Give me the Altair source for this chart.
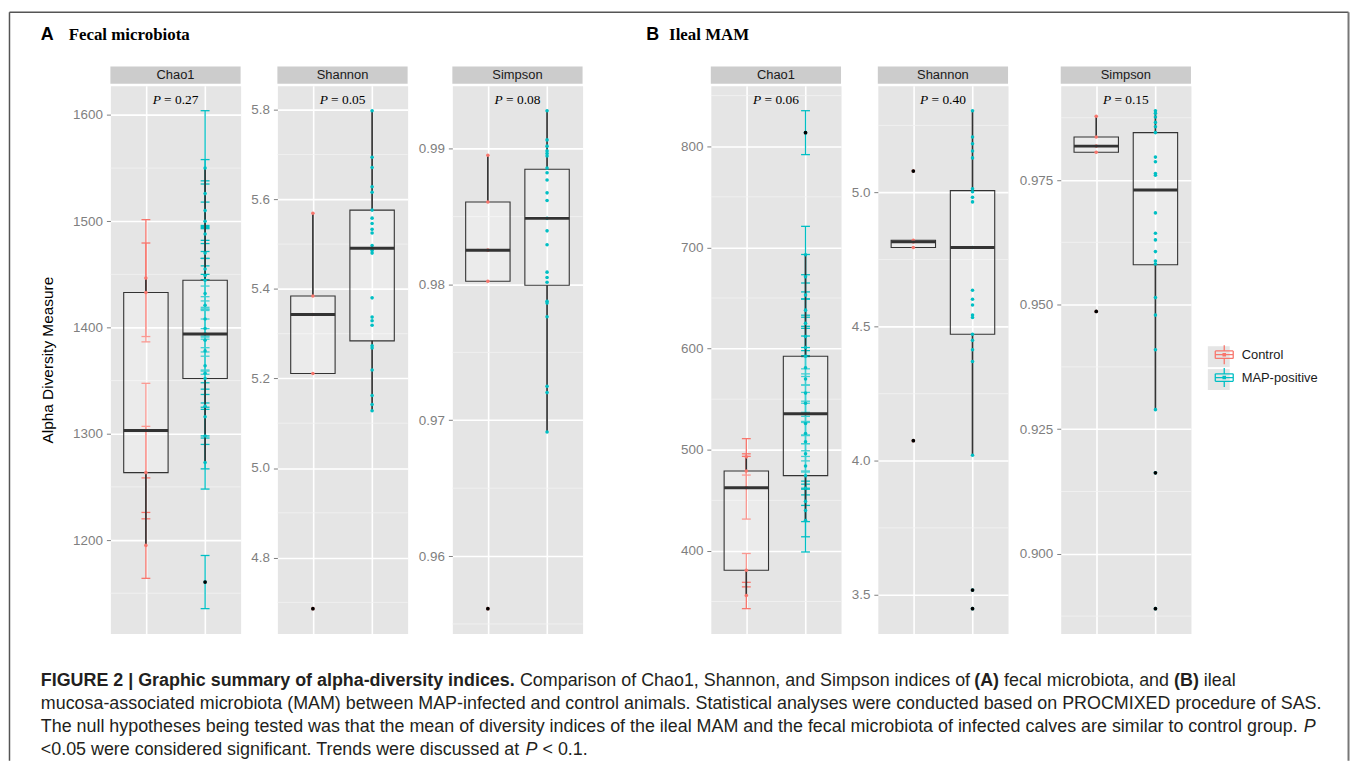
import altair as alt
import pandas as pd

# ---------------- data ----------------
groups = ["Control", "MAP-positive"]
group_pos = [1, 2]
group_colors = ["#F8766D", "#00BFC4"]
metrics = ["Chao1", "Shannon", "Simpson"]
panel_letters = ["A", "B"]
panel_names = ["Fecal microbiota", "Ileal MAM"]
p_fecal = ["0.27", "0.05", "0.08"]
p_ileal = ["0.06", "0.40", "0.15"]
y_title = "Alpha Diversity Measure"

caption_l1 = ["FIGURE 2 | Graphic summary of alpha-diversity indices.",
              "Comparison of Chao1, Shannon, and Simpson indices of", "(A)",
              "fecal microbiota, and", "(B)", "ileal"]
caption_l2 = ("mucosa-associated microbiota (MAM) between MAP-infected and control animals. "
              "Statistical analyses were conducted based on PROCMIXED procedure of SAS.")
caption_l3 = ["The null hypotheses being tested was that the mean of diversity indices of the ileal MAM "
              "and the fecal microbiota of infected calves are similar to control group.", "P"]
caption_l4 = ["<0.05 were considered significant. Trends were discussed at", "P", "< 0.1."]

# box stats: [lower whisker, Q1, median, Q3, upper whisker]
# ---- Fecal Chao1 ----
fc_ctrl = [1446.5, 1433.0, 1303.0, 1263.5, 1195.0]
fc_ctrl_se = [55.0, 46.5, 44.5, 43.5, 31.0]
fc_map = [1550, 1526, 1510, 1500, 1488, 1470, 1455, 1449, 1444.5, 1432, 1421, 1408,
          1399, 1394, 1388, 1378, 1364, 1357, 1352, 1326, 1316, 1298, 1273, 1160.5]
fc_map_se = [54, 32, 28, 35, 30, 25, 38, 30, 27, 33, 29, 31,
             26, 35, 28, 30, 27, 32, 29, 30, 26, 31, 25, 25]
fc_box_ctrl = [1195.0, 1263.5, 1303.0, 1433.0, 1446.5]
fc_box_map = [1273.0, 1352.0, 1394.0, 1444.5, 1550.0]
fc_out_ctrl = []
fc_out_map = [1160.5]
fc_major = [1200, 1300, 1400, 1500, 1600]
fc_minor = [1150, 1250, 1350, 1450, 1550]

# ---- Fecal Shannon ----
fs_ctrl = [5.569, 5.384, 5.343, 5.211, 4.686]
fs_map = [5.798, 5.694, 5.671, 5.628, 5.616, 5.576, 5.558, 5.546, 5.533, 5.525, 5.497, 5.486,
          5.480, 5.380, 5.337, 5.329, 5.319, 5.273, 5.268, 5.219, 5.162, 5.142, 5.128]
fs_box_ctrl = [5.211, 5.211, 5.343, 5.384, 5.569]
fs_box_map = [5.128, 5.284, 5.491, 5.576, 5.798]
fs_out_ctrl = [4.686]
fs_out_map = []
fs_major = [4.8, 5.0, 5.2, 5.4, 5.6, 5.8]
fs_minor = [4.7, 4.9, 5.1, 5.3, 5.5, 5.7]

# ---- Fecal Simpson ----
fsi_ctrl = [0.98952, 0.98608, 0.98253, 0.98024, 0.95613]
fsi_map = [0.99280, 0.99065, 0.99019, 0.98984, 0.98965, 0.98946, 0.98858, 0.98823, 0.98769,
           0.98675, 0.98618, 0.98487, 0.98395, 0.98293, 0.98091, 0.98051, 0.98016, 0.97876,
           0.97863, 0.97763, 0.97250, 0.97204, 0.96914]
fsi_box_ctrl = [0.98024, 0.98024, 0.98253, 0.98608, 0.98952]
fsi_box_map = [0.96914, 0.97995, 0.98487, 0.98849, 0.99280]
fsi_out_ctrl = [0.95613]
fsi_out_map = []
fsi_major = [0.96, 0.97, 0.98, 0.99]
fsi_minor = [0.955, 0.965, 0.975, 0.985]

# ---- Ileal Chao1 ----
ic_ctrl = [493.0, 479.0, 462.5, 381.0, 356.0]
ic_ctrl_se = [18.0, 17.0, 31.0, 16.5, 13.0]
ic_map = [813.4, 692.8, 671, 653, 638, 625, 612, 601, 592.4, 581, 570, 556,
          546, 535.7, 526, 516, 508, 496, 484, 474.4, 462, 449, 440, 430]
ic_map_se = [21.7, 28, 22, 20, 18, 24, 19, 21, 20, 17, 22, 19,
             18, 21, 20, 17, 19, 18, 22, 19, 17, 20, 26, 31]
ic_box_ctrl = [356.0, 381.0, 462.5, 479.0, 493.0]
ic_box_map = [430.0, 474.4, 535.7, 592.4, 692.8]
ic_out_ctrl = []
ic_out_map = [813.4]
ic_major = [400, 500, 600, 700, 800]
ic_minor = [350, 450, 550, 650, 750, 850]

# ---- Ileal Shannon ----
is_ctrl = [5.080, 4.822, 4.816, 4.795, 4.075]
is_map = [5.305, 5.207, 5.182, 5.155, 5.129, 5.014, 5.003, 4.982, 4.965, 4.795, 4.636,
          4.602, 4.581, 4.543, 4.534, 4.472, 4.449, 4.414, 4.370, 4.021, 3.518, 3.449]
is_box_ctrl = [4.795, 4.795, 4.816, 4.822, 4.822]
is_box_map = [4.021, 4.472, 4.795, 5.007, 5.305]
is_out_ctrl = [5.080, 4.075]
is_out_map = [3.518, 3.449]
is_major = [3.5, 4.0, 4.5, 5.0]
is_minor = [3.75, 4.25, 4.75, 5.25]

# ---- Ileal Simpson ----
isi_ctrl = [0.98782, 0.98364, 0.98181, 0.98057, 0.94863]
isi_map = [0.98892, 0.98840, 0.98767, 0.98657, 0.98569, 0.98452, 0.97961, 0.97866, 0.97632,
           0.97595, 0.96841, 0.96431, 0.96299, 0.96064, 0.95874, 0.95815, 0.95141, 0.94790,
           0.94094, 0.92893, 0.91625, 0.88900]
isi_box_ctrl = [0.98057, 0.98057, 0.98181, 0.98364, 0.98782]
isi_box_map = [0.92893, 0.95801, 0.97302, 0.98452, 0.98892]
isi_out_ctrl = [0.94863]
isi_out_map = [0.91625, 0.88900]
isi_major = [0.900, 0.925, 0.950, 0.975]
isi_minor = [0.8875, 0.9125, 0.9375, 0.9625, 0.9875]

# ---------------- styling / layout ----------------
W, H = 131, 551
SANS = "Liberation Sans"
SERIF = "Liberation Serif"
DARK = "#333333"
GREY = "#7F7F7F"

cscale = alt.Scale(domain=groups, range=group_colors)
# box drawn as separate open segments so that no area gets filled
legend_path = ("M-0.95,-0.4H0.95 M0.95,-0.4V0.4 M0.95,0.4H-0.95 M-0.95,0.4V-0.4 "
               "M-0.95,0H0.95 M0,-1V-0.4 M0,0.4V1 M-0.12,-0.12H0.12V0.12H-0.12Z")
leg = alt.Legend(title=None, orient="none", legendX=1110, legendY=260,
                 symbolType=legend_path, symbolSize=361, symbolStrokeWidth=1.3,
                 labelFont=SANS, labelFontSize=13,
                 labelColor="#1A1A1A", labelOffset=7, rowPadding=-3, padding=0)


def text_layer(txt, x, y, size, font=SANS, weight="normal", style="normal",
               align="left", color="#1A1A1A", baseline="alphabetic"):
    df = pd.DataFrame({"t": [txt]})
    return alt.Chart(df).mark_text(font=font, fontSize=size, fontWeight=weight,
                                   fontStyle=style, align=align, baseline=baseline,
                                   color=color).encode(
        text="t:N", x=alt.value(x), y=alt.value(y))


def panel(metric, pval, ctrl, mapv, box_c, box_m, out_c, out_m, major, minor, fmt,
          ctrl_se=None, map_se=None, first=False, extras=()):
    n_c, n_m = len(ctrl), len(mapv)
    pts = pd.DataFrame({"grp": [groups[0]] * n_c + [groups[1]] * n_m,
                        "pos": [group_pos[0]] * n_c + [group_pos[1]] * n_m,
                        "value": list(ctrl) + list(mapv)})
    ext = list(pts["value"])
    has_se = ctrl_se is not None
    if has_se:
        se = pd.Series(list(ctrl_se) + list(map_se), dtype=float)
        pts["lo"] = pts["value"] - se
        pts["hi"] = pts["value"] + se
        pts["cl"] = pts["pos"] - 0.075
        pts["cr"] = pts["pos"] + 0.075
        ext += list(pts["lo"]) + list(pts["hi"])
    box = pd.DataFrame({"grp": groups, "pos": group_pos,
                        "lw": [box_c[0], box_m[0]], "q1": [box_c[1], box_m[1]],
                        "med": [box_c[2], box_m[2]], "q3": [box_c[3], box_m[3]],
                        "uw": [box_c[4], box_m[4]]})
    box["xl"] = box["pos"] - 0.375
    box["xr"] = box["pos"] + 0.375
    out = pd.DataFrame({"pos": [1] * len(out_c) + [2] * len(out_m),
                        "value": list(out_c) + list(out_m)})
    ext += list(out["value"])
    lo, hi = min(ext), max(ext)
    pad = 0.05 * (hi - lo)
    ys = alt.Scale(domain=[lo - pad, hi + pad], nice=False, zero=False)
    xs = alt.Scale(domain=[0.4, 2.6], nice=False, zero=False)

    yaxis = alt.Axis(values=major, format=fmt, title=y_title if first else None,
                     domain=False, grid=True, gridColor="white", gridWidth=1.6,
                     tickColor=GREY, tickSize=4, tickWidth=1,
                     labelColor=GREY, labelFont=SANS, labelFontSize=13.5, labelPadding=4,
                     minExtent=42, maxExtent=42,
                     titleFont=SANS, titleFontSize=15.5, titleFontWeight="normal",
                     titleColor="black", titlePadding=13)
    xaxis = alt.Axis(values=[1, 2], labels=False, ticks=False, domain=False, grid=True,
                     gridColor="white", gridWidth=1.6, title=None)

    def X(f):
        return alt.X(f + ":Q", scale=xs, axis=xaxis)

    def Y(f):
        return alt.Y(f + ":Q", scale=ys, axis=yaxis)

    layers = []
    layers.append(alt.Chart(pd.DataFrame({"v": minor})).mark_rule(
        color="#F2F2F2", strokeWidth=0.8).encode(y=Y("v")))
    # strip
    sdf = pd.DataFrame({"m": [metric]})
    layers.append(alt.Chart(sdf).mark_rect(color="#CCCCCC").encode(
        x=alt.value(0), x2=alt.value(W), y=alt.value(-19.5), y2=alt.value(-2)))
    layers.append(alt.Chart(sdf).mark_text(font=SANS, fontSize=13, color="#1A1A1A",
                                           baseline="middle").encode(
        text="m:N", x=alt.value(W / 2), y=alt.value(-10.5)))
    # p-value
    layers.append(text_layer("P", W / 2 - 23, 14, 13.5, font=SERIF, style="italic",
                             baseline="middle", color="black"))
    layers.append(text_layer("= " + pval, W / 2 - 11.5, 14, 13.5, font=SERIF,
                             baseline="middle", color="black"))
    if has_se:
        layers.append(alt.Chart(pts).mark_rule(strokeWidth=1.3).encode(
            x=X("pos"), y=Y("lo"), y2="hi:Q",
            color=alt.Color("grp:N", scale=cscale, legend=leg if first else None)))
        for f in ["lo", "hi"]:
            layers.append(alt.Chart(pts).mark_rule(strokeWidth=1.3).encode(
                x=X("cl"), x2="cr:Q", y=Y(f),
                color=alt.Color("grp:N", scale=cscale, legend=None)))
    layers.append(alt.Chart(box).mark_rect(fill="white", fillOpacity=0.25, stroke=DARK,
                                          strokeWidth=1.1).encode(
        x=X("xl"), x2="xr:Q", y=Y("q1"), y2="q3:Q"))
    layers.append(alt.Chart(box).mark_rule(color=DARK, strokeWidth=1.7).encode(
        x=X("pos"), y=Y("lw"), y2="q1:Q"))
    layers.append(alt.Chart(box).mark_rule(color=DARK, strokeWidth=1.7).encode(
        x=X("pos"), y=Y("q3"), y2="uw:Q"))
    layers.append(alt.Chart(pts).mark_circle(size=13, opacity=1).encode(
        x=X("pos"), y=Y("value"),
        color=alt.Color("grp:N", scale=cscale, legend=None)))
    layers.append(alt.Chart(box).mark_rule(color=DARK, strokeWidth=3).encode(
        x=X("xl"), x2="xr:Q", y=Y("med")))
    if len(out):
        layers.append(alt.Chart(out).mark_circle(size=14, color="black", opacity=1).encode(
            x=X("pos"), y=Y("value")))
    layers.extend(extras)
    return alt.layer(*layers).properties(width=W, height=H)


def spacer(gap):
    return alt.Chart(pd.DataFrame({"a": [0]})).mark_point(opacity=0).encode(
        x=alt.X("a:Q", axis=None), y=alt.Y("a:Q", axis=None)
    ).properties(width=gap, height=H,
                 view=alt.ViewBackground(fill="transparent", stroke="transparent"))


# annotations drawn relative to the first panel
one = pd.DataFrame({"a": [0]})
FRAME = "#555555"
CAP = "#231F20"
extras = [
    alt.Chart(one).mark_rule(color=FRAME, strokeWidth=1.5).encode(
        x=alt.value(-101.5), y=alt.value(-74), y2=alt.value(679)),
    alt.Chart(one).mark_rule(color=FRAME, strokeWidth=1.5).encode(
        x=alt.value(-101.5), x2=alt.value(1245.5), y=alt.value(-74)),
    alt.Chart(one).mark_rule(color="#777777", strokeWidth=2).encode(
        x=alt.value(1245.5), y=alt.value(-74), y2=alt.value(679)),
    # grey key backgrounds of the legend
    alt.Chart(one).mark_rect(color="#E5E5E5").encode(
        x=alt.value(1104), x2=alt.value(1126), y=alt.value(262), y2=alt.value(283)),
    alt.Chart(one).mark_rect(color="#E5E5E5").encode(
        x=alt.value(1104), x2=alt.value(1126), y=alt.value(285), y2=alt.value(306)),
    text_layer(panel_letters[0], -70, -51, 18, weight="bold", baseline="middle", color="black"),
    text_layer(panel_names[0], -42, -51, 17, font=SERIF, weight="bold", baseline="middle",
               color="black"),
    text_layer(panel_letters[1], 539, -51, 18, weight="bold", baseline="middle", color="black"),
    text_layer(panel_names[1], 562, -51, 17, font=SERIF, weight="bold", baseline="middle",
               color="black"),
    # caption
    text_layer(caption_l1[0], -70, 604, 18, weight="bold", color=CAP),
    text_layer(caption_l1[1], 412, 604, 18, color=CAP),
    text_layer(caption_l1[2], 869, 604, 18, weight="bold", color=CAP),
    text_layer(caption_l1[3], 899, 604, 18, color=CAP),
    text_layer(caption_l1[4], 1070, 604, 18, weight="bold", color=CAP),
    text_layer(caption_l1[5], 1100, 604, 18, color=CAP),
    text_layer(caption_l2, -70, 627, 18, color=CAP),
    text_layer(caption_l3[0], -70, 650, 18, color=CAP),
    text_layer(caption_l3[1], 1200.6, 650, 18, style="italic", color=CAP),
    text_layer(caption_l4[0], -70, 673, 18, color=CAP),
    text_layer(caption_l4[1], 417.7, 673, 18, style="italic", color=CAP),
    text_layer(caption_l4[2], 434.7, 673, 18, color=CAP),
]

p1 = panel(metrics[0], p_fecal[0], fc_ctrl, fc_map, fc_box_ctrl, fc_box_map, fc_out_ctrl,
           fc_out_map, fc_major, fc_minor, "d", fc_ctrl_se, fc_map_se, first=True, extras=extras)
p2 = panel(metrics[1], p_fecal[1], fs_ctrl, fs_map, fs_box_ctrl, fs_box_map, fs_out_ctrl,
           fs_out_map, fs_major, fs_minor, ".1f")
p3 = panel(metrics[2], p_fecal[2], fsi_ctrl, fsi_map, fsi_box_ctrl, fsi_box_map, fsi_out_ctrl,
           fsi_out_map, fsi_major, fsi_minor, ".2f")
p4 = panel(metrics[0], p_ileal[0], ic_ctrl, ic_map, ic_box_ctrl, ic_box_map, ic_out_ctrl,
           ic_out_map, ic_major, ic_minor, "d", ic_ctrl_se, ic_map_se)
p5 = panel(metrics[1], p_ileal[1], is_ctrl, is_map, is_box_ctrl, is_box_map, is_out_ctrl,
           is_out_map, is_major, is_minor, ".1f")
p6 = panel(metrics[2], p_ileal[2], isi_ctrl, isi_map, isi_box_ctrl, isi_box_map, isi_out_ctrl,
           isi_out_map, isi_major, isi_minor, ".3f")

chart = alt.hconcat(
    p1, spacer(37), p2, spacer(45), p3, spacer(129), p4, spacer(37), p5, spacer(53), p6,
    spacing=0, bounds="flush"
).properties(padding=0, background="white"
).configure_view(fill="#E5E5E5", stroke="transparent")

chart.save("out.html", embed_options={"renderer": "svg", "actions": False})
